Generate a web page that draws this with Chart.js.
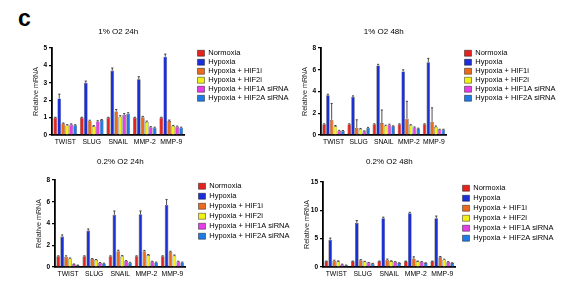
<!DOCTYPE html>
<html><head><meta charset="utf-8">
<script src="https://cdn.jsdelivr.net/npm/chart.js@4.4.1/dist/chart.umd.min.js"></script>
<style>
html,body{margin:0;padding:0;background:#fff;}
#wrap{position:relative;width:563px;height:294px;overflow:hidden;background:#fff;}
canvas{position:absolute;}
#lbl{position:absolute;left:18px;top:7px;font:bold 23px/22px "Liberation Sans",Arial,sans-serif;color:#000;}
</style></head><body>
<div id="wrap"><div id="lbl">c</div>
<canvas id="c1"></canvas><canvas id="c2"></canvas><canvas id="c3"></canvas><canvas id="c4"></canvas>
</div>
<script>
// ---------- DATA ----------
const categories = ['TWIST', 'SLUG', 'SNAIL', 'MMP-2', 'MMP-9'];
const seriesNames = ['Normoxia', 'Hypoxia', 'Hypoxia + HIF1i', 'Hypoxia + HIF2i', 'Hypoxia + HIF1A siRNA', 'Hypoxia + HIF2A siRNA'];
const panelTitles = ['1% O2 24h', '1% O2 48h', '0.2% O2 24h', '0.2% O2 48h'];
const yAxisTitle = 'Relative mRNA';
const yMaxes = [5, 8, 8, 15];
const ySteps = [1, 2, 2, 5];

// Panel 1: 1% O2 24h
const p1Normoxia = [1.0, 1.0, 1.0, 1.0, 1.0];
const p1Hypoxia  = [2.1, 3.0, 3.7, 3.2, 4.5];
const p1HIF1i    = [0.66, 0.82, 1.35, 1.02, 0.8];
const p1HIF2i    = [0.55, 0.5, 1.05, 0.75, 0.52];
const p1HIF1A    = [0.6, 0.78, 1.15, 0.45, 0.48];
const p1HIF2A    = [0.56, 0.86, 1.22, 0.42, 0.42];
const p1NormoxiaErr = [0.02, 0.02, 0.02, 0.02, 0.02];
const p1HypoxiaErr  = [0.25, 0.1, 0.15, 0.15, 0.15];
const p1HIF1iErr    = [0.03, 0.03, 0.12, 0.05, 0.06];
const p1HIF2iErr    = [0.04, 0.04, 0.06, 0.05, 0.03];
const p1HIF1AErr    = [0.04, 0.04, 0.08, 0.03, 0.03];
const p1HIF2AErr    = [0.03, 0.03, 0.06, 0.03, 0.03];

// Panel 2: 1% O2 48h
const p2Normoxia = [1.0, 1.0, 1.0, 1.0, 1.0];
const p2Hypoxia  = [3.65, 3.5, 6.4, 5.85, 6.7];
const p2HIF1i    = [1.4, 0.65, 1.1, 1.5, 1.2];
const p2HIF2i    = [0.8, 0.55, 0.85, 0.9, 0.75];
const p2HIF1A    = [0.4, 0.35, 0.95, 0.7, 0.5];
const p2HIF2A    = [0.38, 0.65, 0.8, 0.6, 0.5];
const p2NormoxiaErr = [0.03, 0.03, 0.03, 0.03, 0.03];
const p2HypoxiaErr  = [0.1, 0.1, 0.1, 0.15, 0.35];
const p2HIF1iErr    = [1.5, 0.75, 1.2, 1.6, 1.3];
const p2HIF2iErr    = [0.08, 0.05, 0.05, 0.05, 0.08];
const p2HIF1AErr    = [0.03, 0.03, 0.05, 0.04, 0.03];
const p2HIF2AErr    = [0.03, 0.05, 0.04, 0.03, 0.03];

// Panel 3: 0.2% O2 24h
const p3Normoxia = [1.0, 1.0, 1.0, 1.0, 1.0];
const p3Hypoxia  = [2.8, 3.35, 4.8, 4.85, 5.7];
const p3HIF1i    = [0.95, 0.75, 1.45, 1.45, 1.4];
const p3HIF2i    = [0.78, 0.65, 1.0, 1.1, 1.05];
const p3HIF1A    = [0.25, 0.38, 0.55, 0.5, 0.5];
const p3HIF2A    = [0.15, 0.32, 0.4, 0.42, 0.42];
const p3NormoxiaErr = [0.03, 0.03, 0.03, 0.03, 0.03];
const p3HypoxiaErr  = [0.15, 0.15, 0.35, 0.3, 0.5];
const p3HIF1iErr    = [0.08, 0.03, 0.1, 0.08, 0.05];
const p3HIF2iErr    = [0.05, 0.04, 0.05, 0.05, 0.05];
const p3HIF1AErr    = [0.03, 0.03, 0.04, 0.03, 0.03];
const p3HIF2AErr    = [0.03, 0.03, 0.03, 0.03, 0.03];

// Panel 4: 0.2% O2 48h
const p4Normoxia = [1.0, 1.0, 1.0, 1.0, 1.0];
const p4Hypoxia  = [4.8, 7.8, 8.6, 9.5, 8.6];
const p4HIF1i    = [1.1, 1.2, 1.3, 1.5, 1.7];
const p4HIF2i    = [1.0, 0.95, 1.05, 1.0, 1.3];
const p4HIF1A    = [0.45, 0.75, 0.9, 0.9, 0.9];
const p4HIF2A    = [0.3, 0.6, 0.7, 0.7, 0.7];
const p4NormoxiaErr = [0.05, 0.05, 0.05, 0.05, 0.05];
const p4HypoxiaErr  = [0.3, 0.4, 0.2, 0.15, 0.4];
const p4HIF1iErr    = [0.1, 0.1, 0.1, 0.3, 0.15];
const p4HIF2iErr    = [0.08, 0.05, 0.05, 0.05, 0.08];
const p4HIF1AErr    = [0.05, 0.05, 0.05, 0.05, 0.05];
const p4HIF2AErr    = [0.05, 0.05, 0.05, 0.05, 0.05];

// ---------- STYLE / LAYOUT ----------
const seriesColors = ['#e4231f', '#1a2fd8', '#ea6a1e', '#f2f01a', '#e63ee6', '#1e7ae6'];
Chart.defaults.font.family = '"Liberation Sans", Arial, sans-serif';
Chart.defaults.color = '#000';

const layouts = [
  {id:'c1', left:20, top:22, w:279, h:130, pad:{left:6, top:0, right:8, bottom:3}, tpad:{top:5, bottom:11.4}, lpad:1.5, dummy:11.5},
  {id:'c2', left:290, top:22, w:273, h:130, pad:{left:5, top:0, right:5, bottom:3}, tpad:{top:5, bottom:11.4}, lpad:1.5, dummy:16.5},
  {id:'c3', left:22, top:150, w:277, h:134, pad:{left:7, top:0, right:8, bottom:3}, tpad:{top:7.2, bottom:13.2}, lpad:2.5, dummy:10.5},
  {id:'c4', left:292, top:150, w:271, h:134, pad:{left:5, top:0, right:8, bottom:3}, tpad:{top:7.2, bottom:15.2}, lpad:2.5, dummy:4.5}
];

const panelSeries = [
  [p1Normoxia, p1Hypoxia, p1HIF1i, p1HIF2i, p1HIF1A, p1HIF2A],
  [p2Normoxia, p2Hypoxia, p2HIF1i, p2HIF2i, p2HIF1A, p2HIF2A],
  [p3Normoxia, p3Hypoxia, p3HIF1i, p3HIF2i, p3HIF1A, p3HIF2A],
  [p4Normoxia, p4Hypoxia, p4HIF1i, p4HIF2i, p4HIF1A, p4HIF2A]
];
const panelErrors = [
  [p1NormoxiaErr, p1HypoxiaErr, p1HIF1iErr, p1HIF2iErr, p1HIF1AErr, p1HIF2AErr],
  [p2NormoxiaErr, p2HypoxiaErr, p2HIF1iErr, p2HIF2iErr, p2HIF1AErr, p2HIF2AErr],
  [p3NormoxiaErr, p3HypoxiaErr, p3HIF1iErr, p3HIF2iErr, p3HIF1AErr, p3HIF2AErr],
  [p4NormoxiaErr, p4HypoxiaErr, p4HIF1iErr, p4HIF2iErr, p4HIF1AErr, p4HIF2AErr]
];

const errorBars = {
  id: 'errorBars',
  afterDatasetsDraw(chart) {
    const ctx = chart.ctx, ys = chart.scales.y;
    ctx.save();
    ctx.strokeStyle = '#222';
    ctx.lineWidth = 0.8;
    chart.data.datasets.forEach((ds, i) => {
      const meta = chart.getDatasetMeta(i);
      meta.data.forEach((bar, j) => {
        const v = ds.data[j], e = ds.errors[j];
        const yTop = ys.getPixelForValue(v + e);
        const cap = bar.width * 0.3;
        ctx.beginPath();
        ctx.moveTo(bar.x, bar.y);
        ctx.lineTo(bar.x, yTop);
        ctx.moveTo(bar.x - cap, yTop);
        ctx.lineTo(bar.x + cap, yTop);
        ctx.stroke();
      });
    });
    ctx.restore();
  }
};

layouts.forEach((L, p) => {
  const cv = document.getElementById(L.id);
  cv.width = L.w; cv.height = L.h;
  cv.style.left = L.left + 'px'; cv.style.top = L.top + 'px';
  cv.style.width = L.w + 'px'; cv.style.height = L.h + 'px';
  new Chart(cv, {
    type: 'bar',
    data: {
      labels: categories,
      datasets: seriesNames.map((name, k) => ({
        label: name,
        data: panelSeries[p][k],
        errors: panelErrors[p][k],
        backgroundColor: seriesColors[k],
        borderColor: 'rgba(0,0,0,0.7)',
        borderWidth: 0.6,
        categoryPercentage: 0.9,
        barPercentage: 0.94
      }))
    },
    options: {
      responsive: false,
      animation: false,
      devicePixelRatio: 1,
      layout: { padding: L.pad },
      plugins: {
        title: { display: true, text: panelTitles[p], fullSize: false, color: '#000',
                 font: { size: 8, weight: 'normal' }, padding: L.tpad },
        legend: { display: true, position: 'right', align: 'start', fullSize: false, maxWidth: 95,
                  labels: { boxWidth: 7, boxHeight: 6, color: '#000', font: { size: 7.5 }, padding: L.lpad } },
        tooltip: { enabled: false }
      },
      scales: {
        x: {
          grid: { display: false, drawTicks: false },
          border: { color: '#000', width: 1.8 },
          ticks: { font: { size: 6.8 }, color: '#000', padding: 3, maxRotation: 0, autoSkip: false },
          afterFit(s) { s.height = 14; }
        },
        y: {
          min: 0, max: yMaxes[p],
          ticks: { stepSize: ySteps[p], font: { size: 6.5, weight: 'bold' }, color: '#000', padding: 2 },
          grid: { drawOnChartArea: false, drawTicks: true, tickLength: 3, color: '#000', lineWidth: 1.2 },
          border: { color: '#000', width: 1.8 },
          title: { display: true, text: yAxisTitle, color: '#222', font: { size: 7.2 }, padding: { top: 6, bottom: 0 } },
          afterFit(s) { s.width = 26; }
        },
        yPad: {
          position: 'right', display: true,
          grid: { display: false, drawTicks: false }, border: { display: false },
          ticks: { display: false },
          afterFit(s) { s.width = L.dummy; }
        }
      }
    },
    plugins: [errorBars]
  });
});
</script>
</body></html>
